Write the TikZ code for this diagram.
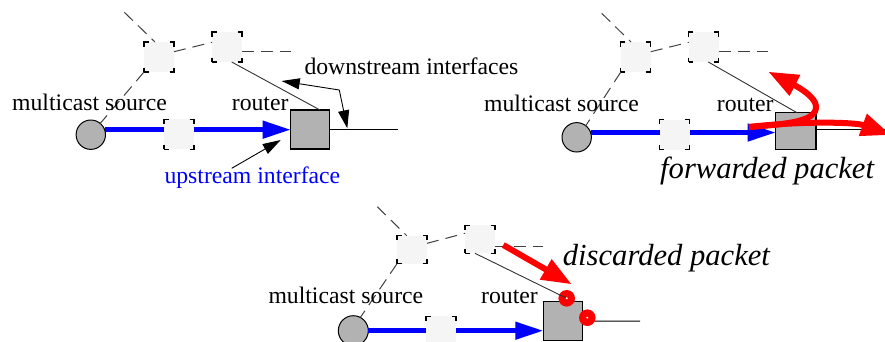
\documentclass[tikz,border=0pt]{standalone}
\usepackage{fontspec}
\setmainfont{Liberation Serif}
\usetikzlibrary{arrows.meta,calc}
\definecolor{boxgray}{RGB}{178,178,178}
\definecolor{hfill}{RGB}{245,245,245}
\begin{document}
\begin{tikzpicture}[x=1pt,y=-1pt,
 conn/.style={draw=black!75, line width=1pt, dash pattern=on 12pt off 7pt},
 thinl/.style={draw=black!80, line width=0.9pt},
 hbox/.style={rectangle, draw=black, line width=1.3pt, fill=hfill, minimum width=30pt, minimum height=30pt, inner sep=0pt, outer sep=0pt, dash pattern=on 9pt off 21pt, dash phase=4.5pt},
 rtr/.style={rectangle, draw=black, line width=1.2pt, fill=boxgray, inner sep=0pt, outer sep=0pt},
 srcc/.style={circle, draw=black, line width=1pt, fill=boxgray, minimum size=29.4pt, inner sep=0pt, outer sep=0pt},
 lbl/.style={anchor=base west, inner sep=0pt, font=\fontsize{23.7}{28}\selectfont},
 ilbl/.style={anchor=base west, inner sep=0pt, font=\fontsize{30.6}{36}\selectfont\itshape},
 blueline/.style={draw=blue, line width=4.6pt, -{Triangle[length=28pt,width=17pt]}},
 pointer/.style={draw=black, line width=0.9pt, -{Triangle[length=18pt,width=11pt]}},
 redarrow/.style={draw=red, line width=6pt, -{Triangle[length=30pt,width=22pt]}},
 redc/.style={circle, fill=red, minimum size=16.6pt, inner sep=0pt, outer sep=0pt},
 wdot/.style={circle, fill=white, minimum size=2.2pt, inner sep=0pt}
]
\useasboundingbox (0,0) rectangle (885,341);
\clip (0,0) rectangle (885,341);

% ---------------- Panel 1 ----------------
\node[srcc] (src1) at (90.8,134.7) {};
\node[rtr, minimum width=38.6pt, minimum height=39pt] (R1) at (310,129.5) {};
\coordinate (t1) at (124.3,12.3);
\coordinate (e1) at (291,51.7);
\coordinate (o1) at (398,129.5);
\node[hbox] (A1) at (159,57) {};
\node[hbox] (B1) at (227,47) {};
\draw[conn] (t1) -- ($(A1.north)+(-4,0)$);
\draw[conn] (A1.south west) -- (src1.50);
\draw[conn] ($(A1.east)+(0,-5.3)$) -- ($(B1.west)+(0,-4.7)$);
\draw[conn] ($(B1.east)+(0,4.7)$) -- (e1);
\draw[thinl] ($(B1.south)+(4.7,0)$) -- ($(R1.north)+(10,0)$);
\draw[black, line width=1pt] (R1.east) -- (o1);
\draw[blueline] (src1.20) -- (src1.20 -| R1.west);
\node[hbox] (m1) at (179,134.2) {};
\node[lbl] (ms1) at (12,110) {multicast source};
\node[lbl] (ro1) at (231.7,110) {router};
\node[lbl] (ds1) at (304.3,74) {downstream interfaces};
\node[lbl, text=blue] (us1) at (164.3,183.3) {upstream interface};
\coordinate (J1) at (339.3,90);
\coordinate (dt1) at (281.7,81);
\coordinate (dt2) at (347.3,128.3);
\draw[pointer] (J1) -- (dt1);
\draw[pointer] (J1) -- (dt2);
\coordinate (ut0) at (231.7,168.3);
\coordinate (ut1) at (280.7,140);
\draw[pointer] (ut0) -- (ut1);

% ---------------- Panel 2 ----------------
\node[srcc] (src2) at (576.7,137.3) {};
\node[rtr, minimum width=40.3pt, minimum height=36.8pt] (R2) at (795.8,131) {};
\coordinate (t2) at (601.7,13.3);
\coordinate (e2) at (767.7,51.7);
\coordinate (o2) at (885,129.3);
\node[hbox] (A2) at (635.8,57) {};
\node[hbox] (B2) at (703.7,47) {};
\draw[conn] (t2) -- ($(A2.north)+(-4.8,0)$);
\draw[conn] (A2.south west) -- (src2.52);
\draw[conn] ($(A2.east)+(0,-5.3)$) -- ($(B2.west)+(0,-4.7)$);
\draw[conn] ($(B2.east)+(0,4.7)$) -- (e2);
\draw[thinl] ($(B2.south)+(4.6,0)$) -- ($(R2.north)+(1,0)$);
\draw[black, line width=1pt] ($(R2.east)+(0,-1.7)$) -- (o2);
\draw[blueline] (src2.19) -- (src2.19 -| R2.west);
\node[hbox] (m2) at (674.7,134.5) {};
\node[lbl] (ms2) at (484,111.7) {multicast source};
\node[lbl] (ro2) at (716.7,111.7) {router};
\node[ilbl] (fp2) at (660,178.3) {forwarded packet};
\coordinate (r2s) at (749,127);
\coordinate (r2up) at (768.3,71.7);
\coordinate (r2rt) at (891,135);
\draw[redarrow] (r2s) .. controls (800,121) and (855,122) .. (r2rt);
\draw[redarrow] (r2s) .. controls (790,124) and (817,121) .. (816,106) .. controls (815,97) and (800,88) .. (r2up);

% ---------------- Panel 3 ----------------
\node[srcc, minimum size=30pt] (src3) at (353.3,330.7) {};
\node[rtr, minimum width=39pt, minimum height=39pt] (R3) at (562.8,321.2) {};
\coordinate (t3) at (377.3,206.7);
\coordinate (e3) at (543.3,246);
\coordinate (o3) at (640,321);
\node[hbox, minimum height=28pt, dash pattern=on 9pt off 21pt on 9pt off 19pt] (A3) at (412,249.7) {};
\node[hbox, minimum height=28pt, dash pattern=on 9pt off 21pt on 9pt off 19pt] (B3) at (480,239.3) {};
\draw[conn] (t3) -- ($(A3.north)+(-5.3,0)$);
\draw[conn] (A3.south west) -- (src3.62);
\draw[conn] ($(A3.east)+(0,-6.4)$) -- ($(B3.west)+(0,-6)$);
\draw[conn] ($(B3.east)+(0,6.7)$) -- (e3);
\draw[black, line width=1pt] (R3.east) -- (o3);
\draw[blueline] (src3.east) -- (src3.east -| R3.west);
\node[hbox] (m3) at (441,331.3) {};
\node[redc] (rc1) at (566.7,298.3) {};
\node[redc] (rc2) at (587.3,317.7) {};
\draw[thinl] ($(B3.south)+(-5,0)$) -- (rc1.center);
\node[wdot] at (rc1.center) {};
\node[wdot] at (rc2.center) {};
\coordinate (r3s) at (503.3,245);
\coordinate (r3t) at (571.7,284.3);
\draw[redarrow] (r3s) -- (r3t);
\node[lbl] (ms3) at (268.3,303.3) {multicast source};
\node[lbl] (ro3) at (481,303.3) {router};
\node[ilbl] (dp3) at (562.7,265) {discarded packet};
\end{tikzpicture}
\end{document}
